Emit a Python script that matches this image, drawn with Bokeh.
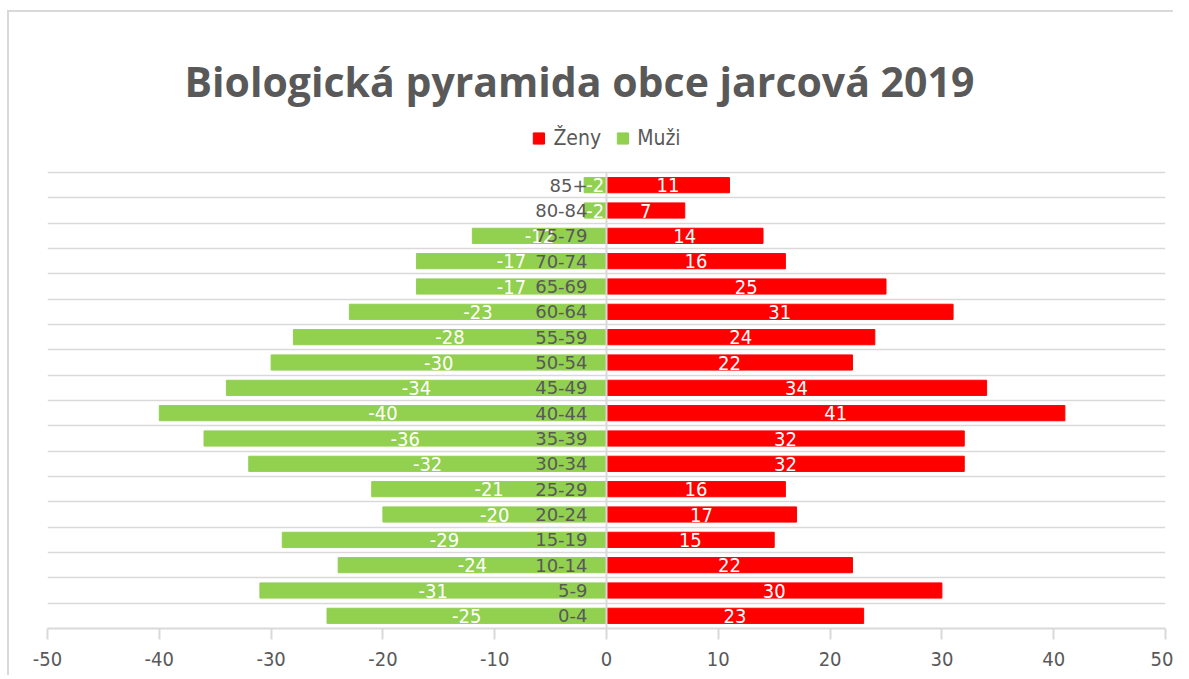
from bokeh.plotting import figure
from bokeh.models import (ColumnDataSource, FixedTicker, Legend, LegendItem,
                          Range1d, PrintfTickFormatter)
from bokeh.core.properties import value
from bokeh.embed import file_html
from bokeh.resources import INLINE

categories = ["0-4", "5-9", "10-14", "15-19", "20-24", "25-29", "30-34", "35-39",
              "40-44", "45-49", "50-54", "55-59", "60-64", "65-69", "70-74",
              "75-79", "80-84", "85+"]
muzi = [-25, -31, -24, -29, -20, -21, -32, -36, -40, -34, -30, -28, -23, -17,
        -17, -12, -2, -2]
zeny = [23, 30, 22, 15, 17, 16, 32, 32, 41, 34, 22, 24, 31, 25, 16, 14, 7, 11]
x_ticks = [-50, -40, -30, -20, -10, 0, 10, 20, 30, 40, 50]

TEXT = "#595959"
GRID = "#D9D9D9"
RED = "#FF0000"
GREEN = "#92D050"
FONT = "DejaVu Sans Condensed"

n = len(categories)
idx = list(range(n))
src = ColumnDataSource(dict(
    y=idx, cat=categories, m=muzi, z=zeny,
    mc=[v / 2 for v in muzi], zc=[v / 2 for v in zeny],
    ml=[str(v) for v in muzi], zl=[str(v) for v in zeny],
    zero=[0] * n,
))

# layout geometry (pixels)
frame_h = 510
rows_px = 456
extra_top = (frame_h - rows_px) / (rows_px / n)

p = figure(width=1166, height=665, output_backend="svg", toolbar_location=None,
           x_range=Range1d(-50, 50), y_range=Range1d(-0.5, n - 0.5 + extra_top),
           min_border_left=38, min_border_right=10, min_border_bottom=49,
           min_border_top=106)
p.styles = {"border-left": "2px solid #D9D9D9", "border-top": "2px solid #D9D9D9",
            "margin-left": "7px", "margin-top": "10px"}

p.title.text = "Biologická pyramida obce jarcová 2019"
p.title.text_font = "Open Sans"
p.title.text_font_style = "bold"
p.title.text_font_size = "41px"
p.title.text_color = TEXT
p.title.align = "left"
p.title.vertical_align = "top"
p.title.offset = 137
p.title.standoff = 16

rz = p.hbar(y="y", left=0, right="z", height=0.6, color=RED, source=src)
rm = p.hbar(y="y", left="m", right=0, height=0.6, color=GREEN, source=src)

p.text(x="mc", y="y", text="ml", source=src, text_color="white",
       text_font=value(FONT), text_font_size="20px", text_align="center",
       text_baseline="middle")
p.text(x="zc", y="y", text="zl", source=src, text_color="white",
       text_font=value(FONT), text_font_size="20px", text_align="center",
       text_baseline="middle")
p.text(x="zero", y="y", text="cat", source=src, text_color=TEXT,
       text_font=value("DejaVu Sans"), text_font_size="18px", text_align="right",
       text_baseline="middle", x_offset=-19)

vline = ColumnDataSource(dict(x=[0], y0=[-0.5], y1=[n - 0.5]))
p.segment(x0="x", y0="y0", x1="x", y1="y1", source=vline,
          line_color=GRID, line_width=2)

p.yaxis.visible = False
p.ygrid.ticker = FixedTicker(ticks=[i - 0.5 for i in range(n + 1)])
p.ygrid.grid_line_color = GRID
p.ygrid.grid_line_width = 1.5
p.xgrid.grid_line_color = None

ax = p.xaxis[0]
ax.ticker = FixedTicker(ticks=x_ticks)
ax.formatter = PrintfTickFormatter(format="%d")
ax.axis_line_color = GRID
ax.axis_line_width = 2
ax.major_tick_line_color = GRID
ax.major_tick_line_width = 2
ax.major_tick_out = 11
ax.major_tick_in = 0
ax.minor_tick_line_color = None
ax.major_label_text_font = FONT
ax.major_label_text_font_size = "20px"
ax.major_label_text_color = TEXT
ax.major_label_standoff = 12

p.outline_line_color = None

legend = Legend(items=[LegendItem(label="Ženy", renderers=[rz]),
                       LegendItem(label="Muži", renderers=[rm])],
                orientation="horizontal", location="top_center",
                label_text_font=FONT, label_text_font_size="21px",
                label_text_color=TEXT, glyph_width=14, glyph_height=14,
                border_line_color=None, background_fill_alpha=0,
                spacing=14, label_standoff=8, margin=8, padding=2)
p.add_layout(legend)

open("out.html", "w").write(file_html(p, INLINE))
